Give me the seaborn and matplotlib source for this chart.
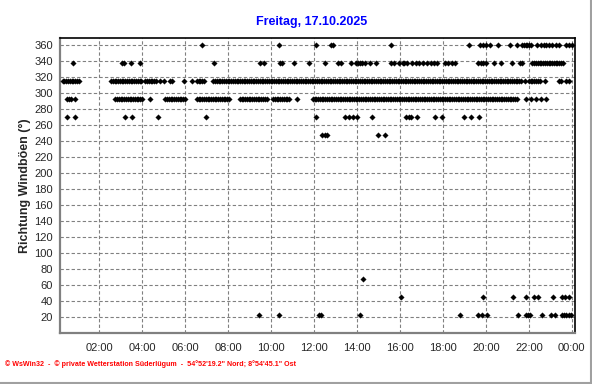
import matplotlib
matplotlib.use("Agg")
import matplotlib.pyplot as plt
import matplotlib.ticker as mticker
from matplotlib.lines import Line2D
import pandas as pd
import seaborn as sns

# ---------------- data ----------------
title_text = "Freitag, 17.10.2025"
ylabel_text = "Richtung Windböen (°)"
footer_text = ("© WsWin32  -  © private Wetterstation Süderlügum  -  "
               "54°52'19.2\" Nord; 8°54'45.1\" Ost")

y_ticks = [20, 40, 60, 80, 100, 120, 140, 160, 180, 200, 220, 240,
           260, 280, 300, 320, 340, 360]
x_tick_hours = [2, 4, 6, 8, 10, 12, 14, 16, 18, 20, 22, 24]
x_tick_labels = ["02:00", "04:00", "06:00", "08:00", "10:00", "12:00",
                 "14:00", "16:00", "18:00", "20:00", "22:00", "00:00"]

# logging interval of the station (minutes) used inside dense runs
log_step_min = 5

# single readings (HH:MM) and dense runs (start, end) per direction
dir_360_points = ["06:47", "10:21", "12:04", "12:46", "12:52", "15:34", "19:13",
                  "19:43", "19:51", "20:00", "20:11", "20:34", "21:07", "21:26",
                  "22:23", "22:33", "22:42", "22:49", "22:56", "23:06", "23:15",
                  "23:24", "23:44", "23:53", "24:01"]
dir_360_runs = [("21:41", "22:07")]

dir_337_points = ["00:47", "03:03", "03:09", "03:29", "03:52", "07:21", "09:29",
                  "09:41", "10:25", "10:31", "11:04", "11:46", "12:31", "13:06",
                  "13:14", "13:43", "13:57", "14:03", "14:09", "14:15", "14:22",
                  "14:37", "14:52", "15:35", "15:43", "15:58", "16:07", "16:11",
                  "16:20", "16:33", "16:44", "16:53", "17:03", "17:15", "17:26",
                  "17:35", "17:43", "18:05", "18:15", "18:24", "18:33", "19:38",
                  "19:45", "19:53", "20:00", "20:22", "20:41", "21:14", "21:34",
                  "21:41"]
dir_337_runs = [("22:10", "23:38")]

dir_315_points = ["04:49", "04:59", "05:17", "05:24", "05:57", "06:18", "21:48",
                  "22:44", "23:23", "23:30", "23:44", "23:51"]
dir_315_runs = [("00:17", "01:04"), ("02:32", "04:00"), ("04:08", "04:40"),
                ("06:32", "06:55"), ("07:18", "21:41"), ("22:00", "22:32")]

dir_292_points = ["00:29", "00:35", "00:41", "00:52", "04:20", "11:13",
                  "21:51", "22:05", "22:20", "22:35", "22:49"]
dir_292_runs = [("02:44", "04:00"), ("05:04", "06:02"), ("06:32", "08:05"),
                ("08:32", "09:49"), ("10:05", "10:52"), ("11:56", "21:28")]

dir_270_points = ["00:29", "00:52", "03:12", "03:32", "04:43", "06:57", "12:04",
                  "13:25", "13:37", "13:49", "14:01", "14:41", "16:16", "16:25",
                  "16:32", "16:47", "17:37", "17:58", "18:59", "19:17", "19:40"]

dir_247_points = ["12:23", "12:29", "12:35", "14:58", "15:18"]

dir_67_points = ["14:17"]

dir_45_points = ["16:02", "19:53", "21:16", "21:53", "22:14", "22:25", "23:08",
                 "23:33", "23:42", "23:52"]

dir_22_points = ["09:26", "10:23", "12:14", "12:18", "14:07", "18:47", "19:38",
                 "19:50", "20:04", "21:29", "21:51", "21:57", "22:03", "22:37",
                 "23:02", "23:12", "23:33", "23:39", "23:45", "23:51", "23:57"]

series = [
    (360.0, dir_360_points, dir_360_runs),
    (337.5, dir_337_points, dir_337_runs),
    (315.0, dir_315_points, dir_315_runs),
    (292.5, dir_292_points, dir_292_runs),
    (270.0, dir_270_points, []),
    (247.5, dir_247_points, []),
    (67.5, dir_67_points, []),
    (45.0, dir_45_points, []),
    (22.5, dir_22_points, []),
]


def to_min(t):
    hh, mm = t.split(":")
    return int(hh) * 60 + int(mm)


rows = []
for direction, points, runs in series:
    for t in points:
        rows.append((to_min(t) / 60.0, direction))
    for a, b in runs:
        m = to_min(a)
        while m <= to_min(b):
            rows.append((m / 60.0, direction))
            m += log_step_min
df = pd.DataFrame(rows, columns=["hour", "direction"])

# ---------------- figure ----------------
sns.set_style("white")
plt.rcParams["font.family"] = ["Liberation Sans", "DejaVu Sans"]

fig = plt.figure(figsize=(5.92, 3.84), dpi=100)
ax = fig.add_axes([60 / 592, 51 / 384, 515 / 592, 295 / 384])

sns.scatterplot(data=df, x="hour", y="direction", ax=ax, marker="D",
                s=8, color="black", edgecolor="black", linewidth=0.2,
                legend=False, zorder=3)

ax.set_xlim(0.16, 24.15)
ax.set_ylim(0, 369)

ax.set_xticks(x_tick_hours)
ax.set_xticklabels(x_tick_labels)
ax.xaxis.set_minor_locator(mticker.MultipleLocator(0.5))
ax.set_yticks(y_ticks)
ax.yaxis.set_minor_locator(mticker.MultipleLocator(5))

ax.tick_params(axis="x", which="major", direction="out", length=4, width=1,
               color="#808080", labelsize=8, pad=3)
ax.tick_params(axis="x", which="minor", direction="out", length=2, width=1,
               color="#808080")
ax.tick_params(axis="y", which="major", direction="out", length=3, width=1,
               color="#808080", labelsize=8, pad=2)
ax.tick_params(axis="y", which="minor", direction="in", length=2, width=1,
               color="#808080")

ax.grid(True, which="major", color="#808080", linestyle=(0, (3, 2)),
        linewidth=0.8)
ax.set_axisbelow(True)

for side in ("left", "bottom"):
    ax.spines[side].set_color("#808080")
    ax.spines[side].set_linewidth(1.6)
for side in ("top", "right"):
    ax.spines[side].set_color("black")
    ax.spines[side].set_linewidth(1.2)
    ax.spines[side].set_visible(True)

ax.set_xlabel("")
ax.set_ylabel(ylabel_text, fontsize=9, fontweight="bold")
ax.yaxis.set_label_coords(-0.056, 0.5)

fig.text(312 / 592, 1 - 22 / 384, title_text, ha="center", va="center",
         color="#0000ff", fontsize=9, fontweight="bold")
fig.text(5 / 592, 1 - 364 / 384, footer_text, ha="left", va="center",
         color="#ff0000", fontsize=5.1, fontweight="bold")

# grey frame on the right and bottom edges of the picture
fig.add_artist(Line2D([590.5 / 592, 590.5 / 592], [0, 1], color="#a0a0a0",
                      linewidth=1.5, transform=fig.transFigure))
fig.add_artist(Line2D([0, 1], [1.5 / 384, 1.5 / 384], color="#a0a0a0",
                      linewidth=1.5, transform=fig.transFigure))

fig.savefig("out.png", dpi=100)
